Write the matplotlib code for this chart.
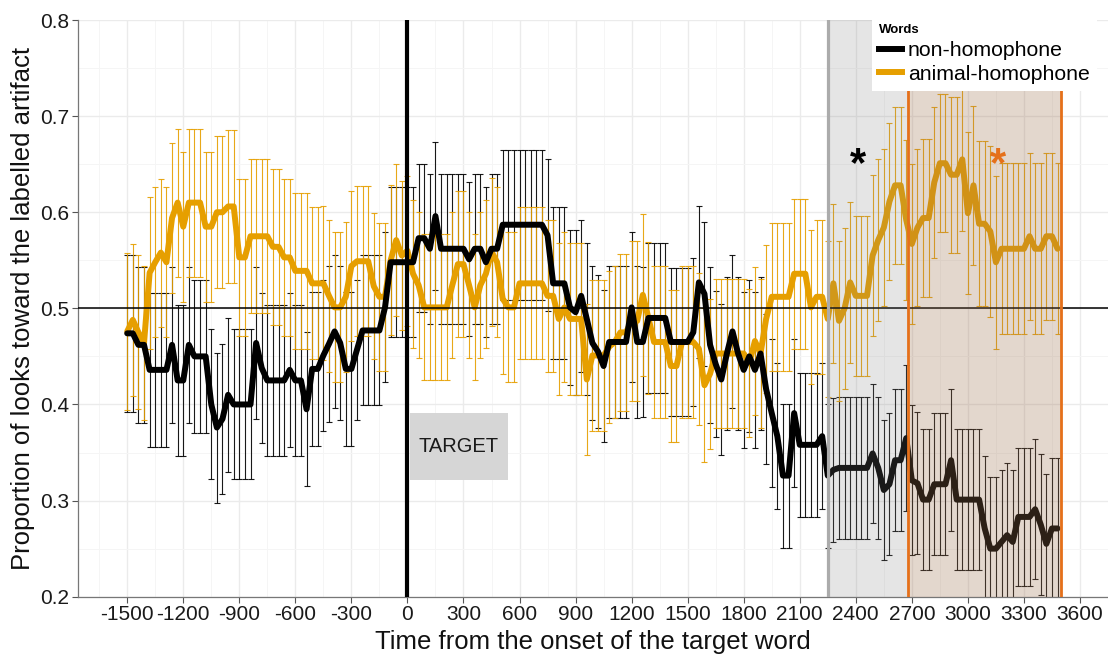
import matplotlib
matplotlib.use("Agg")
import matplotlib.pyplot as plt
import numpy as np
from matplotlib.lines import Line2D
from matplotlib.patches import Rectangle
from matplotlib.ticker import MultipleLocator

plt.rcParams["font.family"] = ["Liberation Sans", "DejaVu Sans"]
plt.rcParams["axes.unicode_minus"] = False

# 30 ms bins from -1500 ms
time = np.arange(-1500, 3500, 30)

nh_mean = [
    0.474, 0.474, 0.462, 0.462, 0.436, 0.436, 0.436, 0.436, 0.462, 0.425,
    0.425, 0.462, 0.450, 0.450, 0.450, 0.400, 0.376, 0.385, 0.410, 0.400,
    0.400, 0.400, 0.400, 0.464, 0.438, 0.425, 0.425, 0.425, 0.425, 0.436,
    0.425, 0.425, 0.395, 0.437, 0.437, 0.451, 0.463, 0.476, 0.464, 0.437,
    0.437, 0.457, 0.477, 0.477, 0.477, 0.477, 0.501, 0.548, 0.548, 0.548,
    0.548, 0.548, 0.573, 0.573, 0.562, 0.596, 0.562, 0.562, 0.562, 0.562,
    0.562, 0.551, 0.562, 0.562, 0.548, 0.562, 0.562, 0.587, 0.587, 0.587,
    0.587, 0.587, 0.587, 0.587, 0.587, 0.576, 0.526, 0.526, 0.526, 0.501,
    0.496, 0.513, 0.489, 0.464, 0.455, 0.440, 0.465, 0.465, 0.465, 0.465,
    0.501, 0.465, 0.465, 0.490, 0.490, 0.490, 0.490, 0.465, 0.465, 0.465,
    0.465, 0.475, 0.527, 0.515, 0.462, 0.442, 0.426, 0.453, 0.476, 0.453,
    0.436, 0.450, 0.436, 0.453, 0.416, 0.391, 0.367, 0.326, 0.326, 0.391,
    0.358, 0.358, 0.358, 0.358, 0.367, 0.326, 0.332, 0.334, 0.334, 0.334,
    0.334, 0.334, 0.334, 0.349, 0.334, 0.311, 0.317, 0.342, 0.342, 0.365,
    0.321, 0.318, 0.301, 0.301, 0.317, 0.317, 0.317, 0.342, 0.301, 0.301,
    0.301, 0.301, 0.301, 0.271, 0.250, 0.250, 0.257, 0.264, 0.257, 0.283,
    0.283, 0.283, 0.291, 0.275, 0.255, 0.271, 0.271,
]
nh_se = [
    0.082, 0.082, 0.081, 0.081, 0.080, 0.080, 0.080, 0.080, 0.081, 0.079,
    0.079, 0.081, 0.080, 0.080, 0.080, 0.078, 0.078, 0.078, 0.080, 0.078,
    0.078, 0.078, 0.078, 0.079, 0.078, 0.079, 0.079, 0.079, 0.079, 0.080,
    0.079, 0.079, 0.080, 0.080, 0.080, 0.079, 0.081, 0.080, 0.080, 0.080,
    0.080, 0.073, 0.078, 0.078, 0.078, 0.078, 0.078, 0.078, 0.078, 0.078,
    0.078, 0.078, 0.077, 0.077, 0.078, 0.077, 0.078, 0.078, 0.078, 0.078,
    0.078, 0.080, 0.078, 0.078, 0.078, 0.078, 0.078, 0.078, 0.078, 0.078,
    0.078, 0.078, 0.078, 0.078, 0.078, 0.079, 0.079, 0.079, 0.079, 0.081,
    0.086, 0.079, 0.079, 0.080, 0.080, 0.079, 0.079, 0.079, 0.079, 0.079,
    0.078, 0.079, 0.078, 0.078, 0.078, 0.078, 0.078, 0.077, 0.077, 0.077,
    0.077, 0.077, 0.079, 0.075, 0.081, 0.076, 0.079, 0.080, 0.080, 0.080,
    0.081, 0.079, 0.081, 0.080, 0.078, 0.077, 0.076, 0.075, 0.075, 0.077,
    0.075, 0.075, 0.075, 0.075, 0.076, 0.075, 0.075, 0.074, 0.074, 0.074,
    0.074, 0.074, 0.074, 0.072, 0.074, 0.073, 0.074, 0.074, 0.074, 0.076,
    0.078, 0.074, 0.073, 0.073, 0.074, 0.074, 0.074, 0.074, 0.073, 0.073,
    0.073, 0.073, 0.073, 0.075, 0.075, 0.075, 0.075, 0.075, 0.075, 0.072,
    0.072, 0.072, 0.073, 0.073, 0.073, 0.073, 0.073,
]
ah_mean = [
    0.476, 0.488, 0.475, 0.464, 0.537, 0.548, 0.558, 0.548, 0.594, 0.610,
    0.585, 0.610, 0.610, 0.610, 0.585, 0.585, 0.600, 0.600, 0.606, 0.606,
    0.553, 0.553, 0.575, 0.575, 0.575, 0.575, 0.564, 0.564, 0.553, 0.553,
    0.539, 0.539, 0.539, 0.526, 0.526, 0.526, 0.513, 0.501, 0.501, 0.512,
    0.544, 0.549, 0.549, 0.549, 0.523, 0.512, 0.512, 0.550, 0.571, 0.555,
    0.560, 0.536, 0.524, 0.501, 0.501, 0.501, 0.501, 0.501, 0.524, 0.546,
    0.546, 0.524, 0.501, 0.524, 0.536, 0.559, 0.548, 0.510, 0.501, 0.501,
    0.526, 0.526, 0.526, 0.526, 0.526, 0.513, 0.513, 0.489, 0.501, 0.489,
    0.489, 0.489, 0.426, 0.451, 0.451, 0.451, 0.460, 0.465, 0.475, 0.475,
    0.487, 0.487, 0.514, 0.490, 0.465, 0.465, 0.465, 0.440, 0.440, 0.465,
    0.465, 0.465, 0.458, 0.420, 0.432, 0.453, 0.453, 0.453, 0.453, 0.453,
    0.453, 0.443, 0.466, 0.453, 0.489, 0.512, 0.512, 0.512, 0.512, 0.536,
    0.536, 0.536, 0.501, 0.512, 0.512, 0.489, 0.526, 0.487, 0.500, 0.527,
    0.513, 0.513, 0.513, 0.555, 0.571, 0.584, 0.611, 0.628, 0.628, 0.592,
    0.567, 0.584, 0.594, 0.594, 0.631, 0.651, 0.651, 0.639, 0.639, 0.655,
    0.599, 0.628, 0.588, 0.588, 0.580, 0.548, 0.562, 0.562, 0.562, 0.562,
    0.562, 0.575, 0.562, 0.562, 0.575, 0.575, 0.562,
]
ah_se = [
    0.082, 0.079, 0.080, 0.080, 0.079, 0.078, 0.077, 0.078, 0.078, 0.077,
    0.078, 0.077, 0.077, 0.077, 0.078, 0.078, 0.079, 0.079, 0.080, 0.080,
    0.082, 0.082, 0.080, 0.080, 0.080, 0.080, 0.081, 0.081, 0.082, 0.082,
    0.081, 0.081, 0.081, 0.079, 0.079, 0.080, 0.079, 0.078, 0.078, 0.078,
    0.078, 0.078, 0.078, 0.078, 0.076, 0.077, 0.077, 0.078, 0.079, 0.078,
    0.078, 0.077, 0.076, 0.076, 0.076, 0.076, 0.076, 0.076, 0.076, 0.076,
    0.076, 0.076, 0.076, 0.076, 0.077, 0.077, 0.078, 0.078, 0.078, 0.078,
    0.079, 0.079, 0.079, 0.079, 0.079, 0.079, 0.079, 0.079, 0.078, 0.079,
    0.079, 0.079, 0.079, 0.079, 0.079, 0.079, 0.079, 0.079, 0.082, 0.082,
    0.083, 0.083, 0.084, 0.079, 0.079, 0.079, 0.079, 0.079, 0.079, 0.079,
    0.079, 0.079, 0.079, 0.080, 0.078, 0.078, 0.078, 0.078, 0.078, 0.078,
    0.078, 0.077, 0.077, 0.078, 0.077, 0.077, 0.077, 0.077, 0.077, 0.078,
    0.078, 0.078, 0.080, 0.080, 0.080, 0.081, 0.083, 0.083, 0.084, 0.084,
    0.083, 0.083, 0.083, 0.084, 0.084, 0.082, 0.082, 0.082, 0.082, 0.083,
    0.083, 0.082, 0.082, 0.082, 0.079, 0.072, 0.072, 0.081, 0.081, 0.075,
    0.084, 0.083, 0.086, 0.086, 0.089, 0.090, 0.089, 0.089, 0.089, 0.089,
    0.089, 0.087, 0.089, 0.089, 0.087, 0.087, 0.089,
]

labels = ["non-homophone", "animal-homophone"]
colors = ["#000000", "#E69F00"]
win_early = (2250, 3500)
win_late = (2680, 3500)
win_orange = "#E5701A"

fig = plt.figure(figsize=(11.08, 6.62), dpi=100)
ax = fig.add_axes([77.7 / 1108, 1 - 596.7 / 662, 1 - 77.7 / 1108, (596.7 - 20) / 662])

ax.set_xlim(-1765, 3750)
ax.set_ylim(0.2, 0.8)
ax.xaxis.set_minor_locator(MultipleLocator(150))
ax.yaxis.set_minor_locator(MultipleLocator(0.05))
ax.set_xticks(np.arange(-1500, 3601, 300))
ax.set_yticks(np.arange(0.2, 0.81, 0.1))
ax.set_yticklabels([f"{v:.1f}" for v in np.arange(0.2, 0.81, 0.1)])
ax.grid(which="major", color="#EBEBEB", lw=1.0, zorder=0)
ax.grid(which="minor", color="#F5F5F5", lw=0.7, zorder=0)
ax.set_axisbelow(True)
ax.tick_params(which="major", length=4, width=0.8, color="#555555",
               labelsize=15, labelcolor="#1A1A1A", pad=2)
ax.tick_params(which="minor", length=0)
for side in ["top", "right"]:
    ax.spines[side].set_visible(False)
for side in ["left", "bottom"]:
    ax.spines[side].set_color("#777777")
    ax.spines[side].set_linewidth(0.9)

series = [(nh_mean, nh_se), (ah_mean, ah_se)]
for (m, s), c in zip(series, colors):
    ax.errorbar(time, m, yerr=s, fmt="none", ecolor=c, elinewidth=0.8,
                capsize=2.2, capthick=0.8, alpha=0.9, zorder=2)
ax.plot(time, ah_mean, color=colors[1], lw=4.3, solid_capstyle="round",
        solid_joinstyle="round", zorder=3)
ax.plot(time, nh_mean, color=colors[0], lw=4.3, solid_capstyle="round",
        solid_joinstyle="round", zorder=4)

ax.axhline(0.5, color="black", lw=1.1, zorder=5)
ax.axvline(0, color="black", lw=3.0, zorder=5)

# analysis windows
ax.add_patch(Rectangle((win_early[0], 0.2), win_early[1] - win_early[0], 0.6,
                       facecolor="#7F7F7F", alpha=0.2, lw=0, zorder=6))
ax.add_patch(Rectangle((win_late[0], 0.2), win_late[1] - win_late[0], 0.6,
                       facecolor="#D55E00", alpha=0.1, lw=0, zorder=6))
ax.axvline(win_early[0], color="#ABABAB", lw=2.3, zorder=7)
ax.axvline(win_late[0], color=win_orange, lw=2.0, zorder=7)
ax.axvline(win_late[1], color=win_orange, lw=2.0, zorder=7)

ax.text(2410, 0.638, "*", fontsize=30, fontweight="bold", color="black",
        ha="center", va="baseline", zorder=8)
ax.text(3160, 0.638, "*", fontsize=30, fontweight="bold", color=win_orange,
        ha="center", va="baseline", zorder=8)

# onset marker
ax.add_patch(Rectangle((12, 0.321), 524, 0.070, facecolor="#D6D6D6",
                       lw=0, zorder=6))
ax.text(274, 0.356, "TARGET", fontsize=14.5, color="#1A1A1A",
        ha="center", va="center", zorder=7)

ax.set_xlabel("Time from the onset of the target word", fontsize=18.5,
              color="#111111", labelpad=4)
ax.set_ylabel("Proportion of looks toward the labelled artifact", fontsize=18.5,
              color="#111111", labelpad=4)

handles = [Line2D([], [], color=c, lw=4.3) for c in colors]
leg = fig.legend(handles, labels, title="Words", loc="upper right",
                 bbox_to_anchor=(1097 / 1108, 1 - 17 / 662), fontsize=15.3,
                 title_fontproperties={"weight": "bold", "size": 9.5},
                 alignment="left", frameon=True, fancybox=False,
                 handlelength=1.1, handletextpad=0.25, labelspacing=0.22,
                 borderpad=0.35, borderaxespad=0)
leg.get_frame().set_facecolor("white")
leg.get_frame().set_edgecolor("none")
leg.get_frame().set_alpha(1)
leg.set_zorder(10)

fig.savefig("out.png", dpi=100)
